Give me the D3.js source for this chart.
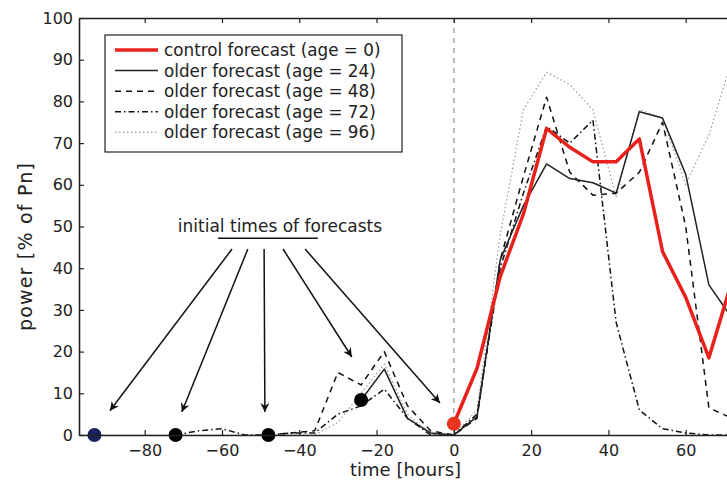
<!DOCTYPE html>
<html>
<head>
<meta charset="utf-8">
<script src="https://cdn.jsdelivr.net/npm/d3@7"></script>
<style>
  html, body { margin: 0; padding: 0; background: #fff; }
  svg { display: block; }
  text { font-family: "DejaVu Sans", Verdana, sans-serif; fill: #222; }
</style>
</head>
<body>
<svg id="chart" width="727" height="481"></svg>
<script>
// Time grid (hours, 6-hourly steps) and power in % of nominal power
const tControl = [0, 6, 12, 18, 24, 30, 36, 42, 48, 54, 60, 66, 72];
const control  = [2.7, 16, 38, 53, 73.5, 69, 65.5, 65.5, 71, 44, 33, 18.5, 37];

const tAge24 = [-24, -18, -12, -6, 0, 6, 12, 18, 24, 30, 36, 42, 48, 54, 60, 66, 72];
const age24  = [8.4, 15.8, 4, 0.5, 0, 4.4, 42, 55, 65, 61.5, 60.5, 58, 77.5, 76, 62.5, 36, 28];

const tAge48 = [-48, -42, -36, -30, -24, -18, -12, -6, 0, 6, 12, 18, 24, 30, 36, 42, 48, 54, 60, 66, 72];
const age48  = [0, 0.5, 1, 15, 12, 20, 7, 1, 0, 4, 42, 62, 81, 63, 57.5, 58, 63, 75, 50, 6.5, 4];

const tAge72 = [-72, -66, -60, -54, -48, -42, -36, -30, -24, -18, -12, -6, 0, 6, 12, 18, 24, 30, 36, 42, 48, 54, 60, 66, 72];
const age72  = [0, 1, 1.5, 0, 0, 0.5, 0.5, 5, 7, 11, 4, 0, 0, 5, 40, 58, 74, 70, 75.5, 27, 6, 1.5, 0.5, 0, 0];

const tAge96 = [-96, -90, -84, -78, -72, -66, -60, -54, -48, -42, -36, -30, -24, -18, -12, -6, 0, 6, 12, 18, 24, 30, 36, 42, 48, 54, 60, 66, 72];
const age96  = [0, 0, 0, 0, 0, 0, 0, 0, 0, 0, 0, 3, 10, 17, 5, 0, 0, 6, 48, 78, 87, 84, 78, 57, 78, 76, 60, 72, 90];

// Initial times of the forecasts and the power at those times
const initTimes  = [-93, -72, -48, -24, 0];
const initValues = [0, 0, 0, 8.4, 2.7];

const legendLabels = [
  "control forecast (age = 0)",
  "older forecast (age = 24)",
  "older forecast (age = 48)",
  "older forecast (age = 72)",
  "older forecast (age = 96)"
];

const xTicks = [-80, -60, -40, -20, 0, 20, 40, 60];
const yTicks = [0, 10, 20, 30, 40, 50, 60, 70, 80, 90, 100];

// Annotation arrows: [start time, start power, tip time, tip power]
const noteLabel = "initial times of forecasts";
const noteArrows = [
  [-57.4, 44.6, -89.0, 5.8],
  [-53.3, 44.6, -70.4, 5.5],
  [-49.1, 44.6, -48.9, 5.5],
  [-44.2, 44.6, -26.4, 18.7],
  [-38.5, 44.6, -3.6, 7.7]
];

const svg = d3.select("#chart");
const plotLeft = 79, plotBottom = 435, plotTop = 18, plotRight = 763;

const x = d3.scaleLinear().domain([-97, 80]).range([plotLeft, plotRight]);
const y = d3.scaleLinear().domain([0, 100]).range([plotBottom, plotTop]);

const defs = svg.append("defs");
defs.append("clipPath").attr("id", "plotclip")
  .append("rect").attr("x", plotLeft).attr("y", plotTop)
  .attr("width", plotRight - plotLeft).attr("height", plotBottom - plotTop);

// Vertical reference line at t = 0
svg.append("line")
  .attr("x1", x(0)).attr("x2", x(0)).attr("y1", y(100)).attr("y2", y(0))
  .attr("stroke", "#aaa").attr("stroke-width", 1.5).attr("stroke-dasharray", "5,5");

const line = d3.line().x(d => x(d[0])).y(d => y(d[1]));
const zip = (ts, vs) => ts.map((t, i) => [t, vs[i]]);

const series = [
  { ts: tAge96, vs: age96, stroke: "#9a9a9a", width: 1.2, dash: "1.5,2.5" },
  { ts: tAge72, vs: age72, stroke: "#111", width: 1.5, dash: "6,3,1.5,3" },
  { ts: tAge48, vs: age48, stroke: "#111", width: 1.5, dash: "6,5" },
  { ts: tAge24, vs: age24, stroke: "#222", width: 1.5, dash: null },
  { ts: tControl, vs: control, stroke: "#e8211c", width: 3.5, dash: null }
];

const plot = svg.append("g").attr("clip-path", "url(#plotclip)");
series.forEach(s => {
  plot.append("path")
    .attr("d", line(zip(s.ts, s.vs)))
    .attr("fill", "none")
    .attr("stroke", s.stroke)
    .attr("stroke-width", s.width)
    .attr("stroke-linejoin", "round")
    .attr("stroke-dasharray", s.dash);
});

// Markers at the forecast initial times
const dotColors = ["#1b2260", "#000", "#000", "#000", "#e8341c"];
svg.append("g").selectAll("circle")
  .data(initTimes)
  .join("circle")
  .attr("cx", d => x(d))
  .attr("cy", (d, i) => y(initValues[i]))
  .attr("r", 7)
  .attr("fill", (d, i) => dotColors[i]);

// Axes (box style with inward ticks)
const xAxis = d3.axisBottom(x).tickValues(xTicks).tickSizeInner(-5).tickSizeOuter(0).tickPadding(10)
  .tickFormat(d => d < 0 ? "\u2212" + Math.abs(d) : d);
const yAxis = d3.axisLeft(y).tickValues(yTicks).tickSizeInner(-5).tickSizeOuter(0).tickPadding(6);
const xTop = d3.axisTop(x).tickValues(xTicks).tickSizeInner(-5).tickSizeOuter(0).tickFormat("");

const gx = svg.append("g").attr("transform", `translate(0,${plotBottom})`).call(xAxis);
const gy = svg.append("g").attr("transform", `translate(${plotLeft},0)`).call(yAxis);
const gt = svg.append("g").attr("transform", `translate(0,${plotTop})`).call(xTop);
[gx, gy, gt].forEach(g => {
  g.select(".domain").attr("stroke", "#222").attr("stroke-width", 1.6);
  g.selectAll(".tick line").attr("stroke", "#222").attr("stroke-width", 1.2);
  g.selectAll(".tick text").attr("font-size", 16).attr("fill", "#222")
    .attr("font-family", "'DejaVu Sans', Verdana, sans-serif");
});

// Axis titles
svg.append("text").attr("x", x(-12.5)).attr("y", 476).attr("text-anchor", "middle")
  .attr("font-size", 18).text("time [hours]");
svg.append("text").attr("transform", `translate(32,${(plotTop + plotBottom) / 2 + 20}) rotate(-90)`)
  .attr("text-anchor", "middle").attr("font-size", 19).attr("letter-spacing", 1.2)
  .text("power [% of Pn]");

// Annotation
defs.append("marker").attr("id", "arrowhead")
  .attr("viewBox", "0 0 10 10").attr("refX", 10).attr("refY", 5)
  .attr("markerWidth", 9).attr("markerHeight", 9).attr("markerUnits", "userSpaceOnUse")
  .attr("orient", "auto")
  .append("path").attr("d", "M0,0 L10,5 L0,10 L3,5 Z").attr("fill", "#111");

svg.append("text").attr("x", x(-45)).attr("y", y(48.6)).attr("text-anchor", "middle")
  .attr("font-size", 17).text(noteLabel);
svg.append("line").attr("x1", x(-61)).attr("x2", x(-35.2)).attr("y1", y(47.2)).attr("y2", y(47.2))
  .attr("stroke", "#111").attr("stroke-width", 1.5);
svg.append("g").selectAll("line").data(noteArrows).join("line")
  .attr("x1", d => x(d[0])).attr("y1", d => y(d[1]))
  .attr("x2", d => x(d[2])).attr("y2", d => y(d[3]))
  .attr("stroke", "#111").attr("stroke-width", 1.5)
  .attr("marker-end", "url(#arrowhead)");

// Legend
const lg = svg.append("g").attr("transform", "translate(105,35)");
lg.append("rect").attr("width", 297).attr("height", 117).attr("fill", "#fff")
  .attr("stroke", "#222").attr("stroke-width", 1.2);
series.slice().reverse().forEach((s, i) => {
  const yy = 15 + i * 20.6;
  lg.append("line").attr("x1", 10).attr("x2", 53).attr("y1", yy).attr("y2", yy)
    .attr("stroke", s.stroke).attr("stroke-width", s.width).attr("stroke-dasharray", s.dash);
  lg.append("text").attr("x", 59).attr("y", yy + 6).attr("font-size", 16.8).text(legendLabels[i]);
});
</script>
</body>
</html>
